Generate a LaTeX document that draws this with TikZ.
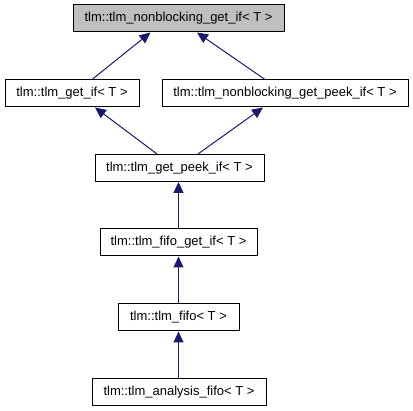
\documentclass[tikz,border=0pt]{standalone}
\usepackage{fontspec}
\setmainfont{Liberation Sans}
\usetikzlibrary{arrows.meta}
\definecolor{edgeblue}{RGB}{25,25,112}
\definecolor{topgray}{RGB}{191,191,191}
\begin{document}
\begin{tikzpicture}[x=1pt,y=-1pt,
  cls/.style={draw=black,line width=1pt,fill=white,minimum height=27pt,inner sep=0pt,font=\fontsize{13}{15}\selectfont},
  inh/.style={draw=edgeblue,line width=1pt,-{Triangle[length=11pt,width=10pt]}}]
\useasboundingbox (0,0) rectangle (413,411);
\node [cls,fill=topgray,minimum width=211pt] (nbget) at (178.5,18.5) {tlm::tlm\_nonblocking\_get\_if< T >};
\node [cls,minimum width=134pt] (getif) at (72,93.5) {tlm::tlm\_get\_if< T >};
\node [cls,minimum width=246pt] (nbpeek) at (285,93.5) {tlm::tlm\_nonblocking\_get\_peek\_if< T >};
\node [cls,minimum width=169pt] (getpeek) at (179.5,168) {tlm::tlm\_get\_peek\_if< T >};
\node [cls,minimum width=157pt] (fifoget) at (178.5,242.5) {tlm::tlm\_fifo\_get\_if< T >};
\node [cls,minimum width=121pt] (fifo) at (178.5,317.5) {tlm::tlm\_fifo< T >};
\node [cls,minimum width=174pt] (afifo) at (179,392.5) {tlm::tlm\_analysis\_fifo< T >};

\draw [inh]([xshift=20pt]getif.north) -- ([xshift=-28pt]nbget.south);
\draw [inh]([xshift=-20pt]nbpeek.north) -- ([xshift=18.5pt]nbget.south);
\draw [inh]([xshift=-22.5pt]getpeek.north) -- ([xshift=23pt]getif.south);
\draw [inh]([xshift=18.5pt]getpeek.north) -- ([xshift=-22pt]nbpeek.south);
\draw [inh](fifoget.north) -- (getpeek.south -| fifoget.north);
\draw [inh](fifo.north) -- (fifoget.south -| fifo.north);
\draw [inh](afifo.north -| fifo.north) -- (fifo.south);

\end{tikzpicture}
\end{document}
